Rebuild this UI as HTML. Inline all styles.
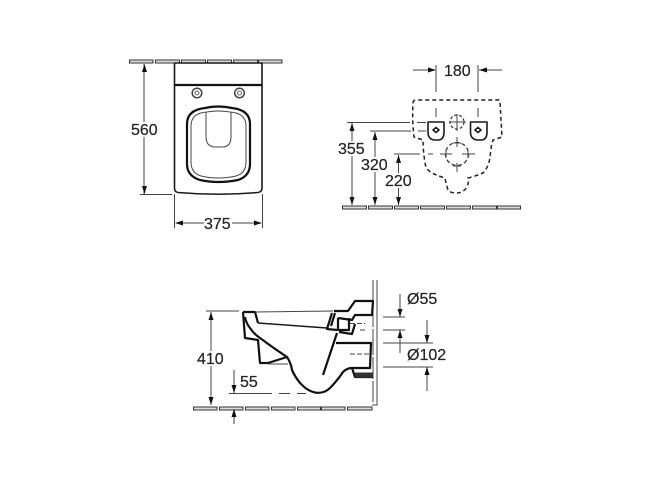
<!DOCTYPE html>
<html><head><meta charset="utf-8"><style>
html,body{margin:0;padding:0;background:#fff}
svg{display:block}
text{font-family:"Liberation Sans",sans-serif;font-size:16px;fill:#222;stroke:#222;stroke-width:.2}
.t{fill:none;stroke:#1a1a1a;stroke-width:1.6;stroke-linejoin:round}
.k{fill:none;stroke:#111;stroke-width:2.2;stroke-linejoin:round}
.n{fill:none;stroke:#444;stroke-width:1}
.d{fill:none;stroke:#222;stroke-width:1.5;stroke-dasharray:4 3}
.f{fill:#ddd;stroke:#333;stroke-width:1}
.a{fill:#111;stroke:none}
</style></head><body>
<svg width="648" height="486" viewBox="0 0 648 486" xmlns="http://www.w3.org/2000/svg">
<defs>
<path id="au" d="M0 0l-2.500 8h5z"/>
<path id="ad" d="M0 0l-2.500 -8h5z"/>
<path id="al" d="M0 0l8 -2.500v5z"/>
<path id="ar" d="M0 0l-8 -2.500v5z"/>
</defs>

<!-- TOP VIEW -->
<g class="f">
<rect x="129.500" y="60" width="23.500" height="3"/><rect x="155.500" y="60" width="24" height="3"/><rect x="181.500" y="60" width="24" height="3"/><rect x="207.500" y="60" width="24" height="3"/><rect x="233.500" y="60" width="24" height="3"/><rect x="258.500" y="60" width="23.500" height="3"/>
</g>
<path class="t" d="M174.500 63V188Q174.500 192 178 192.500Q218 196 258 192.500Q262 192 262 188V63Z"/>
<path class="k" d="M174 85H262"/>
<circle cx="197" cy="93" r="4.800" fill="none" stroke="#444" stroke-width="1.500"/><circle cx="197" cy="93" r="2" fill="none" stroke="#666" stroke-width="1"/>
<circle cx="239.500" cy="93" r="4.800" fill="none" stroke="#444" stroke-width="1.500"/><circle cx="239.500" cy="93" r="2" fill="none" stroke="#666" stroke-width="1"/>
<path class="k" d="M205 108Q218 105 232 108Q250 110 250 124V164Q250 176 238 180Q218 184 200 180Q187 176 187 164V124Q187 110 205 108Z"/>
<path class="n" stroke-width="1.200" d="M207 112Q218 110 230 112Q246 113 246 126V162Q246 173 236 176Q218 180 201 176Q191 173 191 162V126Q191 113 207 112Z"/>
<path class="n" d="M206 112V137Q206 147 216 147H222Q231 147 231 137V112"/>
<path class="n" stroke-width="1.100" d="M144 64V194M140 194.500H172M174.500 194V228M262.500 194V228M176 223H204M232 223H261"/>
<g class="a"><use href="#au" x="144.500" y="64"/><use href="#ad" x="144.500" y="194"/><use href="#al" x="175" y="223"/><use href="#ar" x="262" y="223"/></g>
<rect x="132" y="122" width="28" height="15" fill="#fff"/>
<text x="131" y="135">560</text>
<text x="204" y="229">375</text>

<!-- FRONT / WALL VIEW -->
<g class="f">
<rect x="342.500" y="206" width="24" height="3"/><rect x="368.500" y="206" width="24" height="3"/><rect x="394.500" y="206" width="24" height="3"/><rect x="420.500" y="206" width="24" height="3"/><rect x="446.500" y="206" width="24" height="3"/><rect x="472.500" y="206" width="24" height="3"/><rect x="497.500" y="206" width="23" height="3"/>
</g>
<path class="d" d="M413 103Q413 100 416 100H497Q500 99 500 102L502 137L493 140Q491 145 490 158Q488 168 483 173Q476 176 468 178Q469 183 467 187Q463 193 457 193Q450 193 448 190Q446 184 445 178Q438 176 432 173Q426 170 425 163Q423 150 423 140L414 137Q412 120 413 103Z"/>
<path class="t" d="M428 122H444V132Q444 140 438 140H434Q428 139 428 132Z"/>
<path class="t" d="M470.500 122H487V132Q487 140 481 140H477Q470.500 139 470.500 132Z"/>
<path class="t" stroke-width="1.300" d="M433 130l3-2.500 3 2.500-3 2.500zM475 130l3-2.500 3 2.500-3 2.500z"/>
<circle cx="457" cy="122" r="7" fill="none" stroke="#333" stroke-width="1.200" stroke-dasharray="3 2"/>
<circle cx="457" cy="154" r="11.500" fill="none" stroke="#333" stroke-width="1.300" stroke-dasharray="4 2.500"/>
<path class="n" stroke-width="1.200" d="M457 114V131M449 122H466M457 137V147M453 143H461M457 163V172M453 166H461M440 154H452M446 150V158M462 154H475M468 150V158"/>
<path class="n" stroke-width="1.200" d="M436 65V92M478 65V92M436 108V117M478 108V117M413 70H435M479 70H502M347 122.500H410M417 122.500H426M370 131H411M418 131H426M394 154H420M428 154H433"/>
<path class="n" stroke-width="1.100" d="M352 123V205M375 132V205M398.500 155V205"/>
<g class="a"><use href="#ar" x="436" y="70"/><use href="#al" x="479" y="70"/><use href="#au" x="352" y="123"/><use href="#ad" x="352" y="205"/><use href="#au" x="375" y="132"/><use href="#ad" x="375" y="205"/><use href="#au" x="398.500" y="155"/><use href="#ad" x="398.500" y="205"/></g>
<rect x="338" y="141" width="27" height="15" fill="#fff"/><rect x="361" y="157" width="27" height="15" fill="#fff"/><rect x="385" y="173" width="27" height="15" fill="#fff"/>
<text x="444" y="76">180</text>
<text x="338" y="154">355</text>
<text x="361" y="170">320</text>
<text x="385" y="186">220</text>

<!-- SIDE VIEW -->
<g class="f">
<rect x="193.500" y="407" width="23.500" height="3"/><rect x="219.500" y="407" width="23.500" height="3"/><rect x="245.500" y="407" width="23.500" height="3"/><rect x="271.500" y="407" width="23.500" height="3"/><rect x="297.500" y="407" width="23" height="3"/><rect x="321.500" y="407" width="23.500" height="3"/><rect x="347.500" y="407" width="24.500" height="3"/>
</g>
<path class="n" stroke-width="1.200" d="M373 280V303M373 305V327M373 329V355M373 357V379M373 381V402M377 280V405H372"/>
<!-- bowl -->
<path class="k" d="M243 312H255L258 323M243 312L245 338L258 340L260 363H268L287 357"/>
<path class="n" stroke-width="1.200" d="M255 312L333 311M268 364H288"/>
<path class="t" d="M258 323L327 328"/>
<path class="k" d="M245 317Q246 323 250 328Q254 334 260 338Q272 347 287 357Q291 363 292 370Q296 379 302 385Q308 391 315 392.500Q324 394 330 388Q337 381 343 372Q347 368 352 368H370L371 343H336"/>
<!-- tank / outlet -->
<path class="k" d="M334 311H348L355 301H373L372 315H355L352 320L338 318"/>
<path class="k" d="M332 313L327 329L337 330M335 313L331 326"/>
<path class="k" d="M339 332L352 334L355 324M338 318V330H349V318"/>
<path class="k" d="M337 333L323 375"/>
<path class="k" d="M352 368L355 377H373"/>
<rect x="355" y="372.500" width="18" height="5" fill="#333"/>
<path class="n" stroke-width="1.100" d="M350 323.500H365M360 330H367M350 354H372" stroke-dasharray="5 2"/>
<path class="n" stroke-width="1.200" d="M206 311H239M211 312V405M229 393.500H272M279 393.500H290M297 393.500H306M234 370V393M234 409V424"/>
<path class="n" stroke-width="1.200" d="M383 317H405M383 330H405M383 343H433M383 367H433M400 294V317M400 330V353M427 320V343M427 367V391"/>
<g class="a"><use href="#au" x="211" y="312"/><use href="#ad" x="211" y="405"/><use href="#ad" x="234" y="393"/><use href="#au" x="234" y="409"/><use href="#ad" x="400" y="317"/><use href="#au" x="400" y="330"/><use href="#ad" x="427" y="343"/><use href="#au" x="427" y="367"/></g>
<rect x="197" y="351" width="28" height="15" fill="#fff"/>
<text x="197" y="364">410</text>
<text x="240" y="387">55</text>
<text x="407" y="304">Ø55</text>
<text x="407" y="360">Ø102</text>
</svg>
</body></html>
